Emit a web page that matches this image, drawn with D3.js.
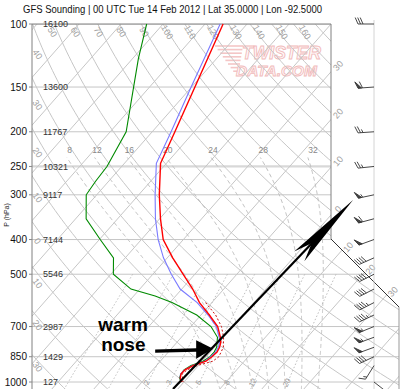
<!DOCTYPE html>
<html><head><meta charset="utf-8">
<script src="https://cdn.jsdelivr.net/npm/d3@7"></script>
<style>body{margin:0;background:#fff}svg{display:block}</style>
</head><body><svg id="c" width="400" height="389"></svg>
<script>
// ---------------- DATA ----------------
const pressureTicks = [100,150,200,250,300,400,500,700,850,1000];
const heightLabels  = ["16100","13600","11767","10321","9117","7144","5546","2987","1429","127"];
const isothermLabelTemps = [-30,-20,-10,0,10,20,30];
const topAdiabatLabels  = [50,60,70,80,90,100,110,120,130,140,150,160];
const leftAdiabatLabels = [40,30,20,10,0,-10,-20,-30];
const moistThetaW  = [8,12,16,20,24,28,32];
const mixingRatios = [0.4,1,2,3,5,8,12,20];
const mixingLabels = [2,3,5,8,12,20];

// temperature (red) and wet-bulb (blue)
const sndP  = [100,150,200,245,300,350,400,450,500,550,600,650,700,750,775,800,825,850,875,900,925,950,975,1000];
const sndT  = [-65.7,-59.2,-54.6,-51.4,-45.1,-39.8,-34.8,-28.7,-22.8,-17.4,-12.95,-8.0,-3.6,-0.7,0.45,1.2,1.6,1.36,0.9,-1.3,-2.3,-2.4,-1.7,-0.55];
const sndTw = [-66.4,-60.1,-55.5,-52.4,-46.1,-41.0,-36.0,-30.9,-25.6,-20.4,-13.5,-8.3,-3.9,-1.0,0.17,0.9,1.24,1.1,0.64,-1.4,-2.4,-2.5,-1.76,-0.64];
// dewpoint (green)
const tdP = [100,125,150,200,250,275,300,350,400,450,500,550,575,600,650,700,750,800,825,850,875,900,925,950,975,1000];
const sndTd = [-83.9,-78.6,-73.8,-66.2,-63.5,-63.1,-62.5,-57.5,-49.8,-42.8,-39.4,-32.1,-24.9,-19.5,-11.0,-5.2,-1.4,0.5,0.9,0.9,0.17,-1.76,-2.55,-2.4,-1.9,-0.7];
// dashed (virtual temperature)
const tvP = [600,650,700,750,800,850,875,900,925,950,1000];
const tvT = [-11.5,-6.5,-2.7,0.05,2.1,3.0,2.5,-0.33,-1.8,-2.1,-0.24];
// winds
const windP   = [100,150,200,250,300,350,400,450,500,550,600,650,700,750,800,850,900,1000];
const windDir = [270,266,266,264,258,255,250,246,243,243,243,245,248,250,250,245,212,128];
const windSpd = [30,60,25,25,55,60,50,40,40,40,45,45,55,55,50,40,15,10];
// annotation anchors (p, T)
const annotLine = [{p:1046,T:-1.15},{p:310,T:2.1}];
const noseTip = {p:808,T:0};

// ---------------- GEOMETRY ----------------
const svg = d3.select('#c');
svg.append('rect').attr('width',400).attr('height',389).attr('fill','#fff');
const X0=184, A=4.2, S=0.88;
const yS = d3.scaleLog().domain([100,1000]).range([24,382]);
const tS = d3.scaleLinear().domain([0,10]).range([X0, X0+10*A]);
const YB = yS(1000);
const sx = (T,p) => tS(T) + S*(YB - yS(p));
const L=32, TOP=24, R=331, NY=239, R2=399;
const clipPts = [[L,TOP],[R,TOP],[R,NY],[R2,NY+(R2-R)],[R2,400],[L,400]];
const font = "'Liberation Sans', Arial, sans-serif";

const defs = svg.append('defs');
defs.append('clipPath').attr('id','pc').append('polygon').attr('points',clipPts.map(d=>d.join(',')).join(' '));

// watermark
const wm = svg.append('g').attr('opacity',0.8);
d3.range(8).forEach(i=>{
  wm.append('line').attr('x1',215+i*2.6).attr('x2',243-i*0.6).attr('y1',46+i*3.6).attr('y2',46+i*3.6)
    .attr('stroke','#f2b8b8').attr('stroke-width',1.6);
});
wm.append('text').attr('x',242).attr('y',59).attr('textLength',79).attr('lengthAdjust','spacingAndGlyphs')
  .attr('font-family',font).attr('font-style','italic').attr('font-weight','bold').attr('font-size',18)
  .attr('fill','#fff6f6').attr('stroke','#eeaaaa').attr('stroke-width',0.9).text('TWISTER');
wm.append('text').attr('x',236).attr('y',76).attr('textLength',81).attr('lengthAdjust','spacingAndGlyphs')
  .attr('font-family',font).attr('font-style','italic').attr('font-weight','bold').attr('font-size',15.5)
  .attr('fill','#fff6f6').attr('stroke','#eeaaaa').attr('stroke-width',0.9).text('DATA.COM');

const grid = svg.append('g').attr('clip-path','url(#pc)');
const gcol = '#c6c6c6';
const line = d3.line().x(d=>d[0]).y(d=>d[1]);

// isobars
pressureTicks.forEach(p=>{
  grid.append('line').attr('x1',L).attr('x2',R2).attr('y1',yS(p)).attr('y2',yS(p))
    .attr('stroke', p===250?'#d8d8d8':gcol).attr('stroke-width', p===250?2.2:1);
});
// isotherms
d3.range(-150,61,10).forEach(T=>{
  grid.append('line').attr('x1',sx(T,1100)).attr('y1',yS(1100)).attr('x2',sx(T,100)).attr('y2',yS(100))
    .attr('stroke',gcol).attr('stroke-width',1);
});
// dry adiabats
const dryPs = d3.range(0,81).map(i=>100*Math.pow(11,i/80));
const dryX = (th,p) => sx((th+273.15)*Math.pow(p/1000,0.286)-273.15, p);
d3.range(-40,201,10).forEach(th=>{
  grid.append('path').attr('d',line(dryPs.map(p=>[dryX(th,p),yS(p)]))).attr('fill','none')
    .attr('stroke',gcol).attr('stroke-width',1);
});
// moist adiabats
function es(Tc){return 6.112*Math.exp(17.67*Tc/(Tc+243.5));}
function lapse(Tk,p){const Rd=287.04,Cp=1005.7,Lv=2.501e6,eps=0.622;const e=es(Tk-273.15);const rs=eps*e/(p-e);
  return (Rd*Tk+Lv*rs)/(p*(Cp+Lv*Lv*rs*eps/(Rd*Tk*Tk)));}
function moist(thw,pTop){
  const down=[],up=[];let T=thw+273.15;
  for(let p=1000;p<1100;p+=2){const k1=lapse(T,p);const k2=lapse(T+k1,p+2);T+=(k1+k2);down.push([p+2,T]);}
  T=thw+273.15;up.push([1000,T]);
  for(let p=1000;p>pTop;p-=2){const k1=lapse(T,p);const k2=lapse(T-2*k1,p-2);T-=(k1+k2);up.push([p-2,T]);}
  return down.reverse().concat(up).map(d=>[d[0],d[1]-273.15]);
}
const lab = svg.append('g').attr('font-family',font);
moistThetaW.forEach(tw=>{
  const pts = moist(tw,225);
  const drawn = pts.filter(d=>d[0]>=235);
  grid.append('path').attr('d',line(drawn.map(d=>[sx(d[1],d[0]),yS(d[0])]))).attr('fill','none')
    .attr('stroke','#bdbdbd').attr('stroke-width',1).attr('stroke-dasharray','4,3');
  const t = pts[pts.length-1];
  lab.append('text').attr('x',sx(t[1],t[0])+8).attr('y',yS(t[0])+3.5).attr('text-anchor','middle')
    .attr('font-size',8.5).attr('fill','#888').text(tw);
});
// mixing ratio
function tdFromW(w,p){const e=w*p/(622+w);const l=Math.log(e/6.112);return 243.5*l/(17.67-l);}
const mixPs = d3.range(0,41).map(i=>500*Math.pow(2.2,i/40));
mixingRatios.forEach(w=>{
  grid.append('path').attr('d',line(mixPs.map(p=>[sx(tdFromW(w,p),p),yS(p)]))).attr('fill','none')
    .attr('stroke','#bdbdbd').attr('stroke-width',1).attr('stroke-dasharray','1.5,2');
});
mixingLabels.forEach(w=>{
  const yy=382.5, p = yS.invert(yy);
  const x = sx(tdFromW(w,p),p)-1;
  lab.append('text').attr('transform',`translate(${x},${yy}) rotate(-62)`).attr('text-anchor','middle')
    .attr('dy','0.35em').attr('font-size',7.5).attr('fill','#999').text(w);
});

// frame
const fr = svg.append('g').attr('fill','none');
fr.append('polyline').attr('points',[[L,389],[L,TOP],[R,TOP],[R,NY]].map(d=>d.join(',')).join(' '))
  .attr('stroke','#808080').attr('stroke-width',1);
fr.append('line').attr('x1',R).attr('y1',NY).attr('x2',R2).attr('y2',NY+(R2-R)).attr('stroke','#333').attr('stroke-width',1);
fr.append('line').attr('x1',R2).attr('y1',NY+(R2-R)).attr('x2',R2).attr('y2',389).attr('stroke','#999').attr('stroke-width',1);

// isotherm labels
isothermLabelTemps.forEach(T=>{
  let x,y;
  const yr = YB - (R - tS(T))/S;
  if(yr>=TOP && yr<=NY){x=R+7;y=yr-6;}
  else{ x=(tS(T)+S*(YB+ (R-NY)))/(1+S); y=NY+(x-R); x+=6; y-=3; }
  lab.append('text').attr('transform',`translate(${x},${y}) rotate(-49)`).attr('text-anchor','middle')
    .attr('dy','0.35em').attr('font-size',9).attr('fill','#a0a0a0').text(Math.abs(T));
});
// top dry adiabat labels
topAdiabatLabels.forEach(th=>{
  const p = yS.invert(32);
  const x0 = dryX(th,p);
  const x = 174 + (x0-174.5)*1.04;
  lab.append('text').attr('transform',`translate(${x},32) rotate(60)`).attr('text-anchor','middle')
    .attr('dy','0.35em').attr('font-size',9).attr('fill','#a0a0a0').text(th);
});
// left dry adiabat labels
leftAdiabatLabels.forEach(th=>{
  let yc=null;
  for(let i=0;i<dryPs.length-1;i++){
    const a=dryX(th,dryPs[i]), b=dryX(th,dryPs[i+1]);
    if((a-L)*(b-L)<=0){const f=(L-a)/(b-a);yc=yS(dryPs[i])+f*(yS(dryPs[i+1])-yS(dryPs[i]));break;}
  }
  if(yc===null) yc = yS(100);
  const yy = yc + 12 + 18*(1-(yc-27)/328);
  lab.append('text').attr('transform',`translate(37.5,${yy}) rotate(55)`).attr('text-anchor','middle')
    .attr('dy','0.35em').attr('font-size',9).attr('fill','#a0a0a0').text(Math.abs(th));
});

// axis labels
pressureTicks.forEach((p,i)=>{
  svg.append('line').attr('x1',29).attr('x2',L).attr('y1',yS(p)).attr('y2',yS(p)).attr('stroke','#888');
  svg.append('text').attr('x',27).attr('y',yS(p)).attr('dy','0.35em').attr('text-anchor','end')
    .attr('font-family',font).attr('font-size',10).attr('fill','#111').text(p);
  svg.append('text').attr('x',43).attr('y',yS(p)).attr('dy','0.35em')
    .attr('font-family',font).attr('font-size',9).attr('fill','#333').text(heightLabels[i]);
});
svg.append('text').attr('transform','translate(9,215) rotate(-90)').attr('text-anchor','middle')
  .attr('font-family',font).attr('font-size',7).attr('fill','#222').text('P (hPa)');
svg.append('text').attr('x',23).attr('y',12.5).attr('textLength',299).attr('lengthAdjust','spacingAndGlyphs')
  .attr('font-family',font).attr('font-size',11).attr('fill','#111')
  .text('GFS Sounding | 00 UTC Tue 14 Feb 2012 | Lat 35.0000 | Lon -92.5000');

// sounding
const snd = svg.append('g').attr('fill','none');
const pl = (P,V)=>line(P.map((p,i)=>[sx(V[i],p),yS(p)]));
snd.append('path').attr('d',pl(tdP,sndTd)).attr('stroke','#008a00').attr('stroke-width',1.1);
snd.append('path').attr('d',pl(sndP,sndTw)).attr('stroke','#7a7aff').attr('stroke-width',1.1);
snd.append('path').attr('d',pl(tvP,tvT)).attr('stroke','#cc1010').attr('stroke-width',1).attr('stroke-dasharray','2,2');
snd.append('path').attr('d',pl(sndP,sndT)).attr('stroke','#ff0000').attr('stroke-width',1.4);

// wind barbs
const wb = svg.append('g').attr('stroke','#333').attr('stroke-width',0.9).attr('fill','none');
const staffX = 374;
wb.append('line').attr('x1',staffX).attr('x2',staffX).attr('y1',20).attr('y2',389).attr('stroke','#cfcfcf');
windP.forEach((p,i)=>{
  const th = windDir[i]*Math.PI/180;
  const d=[Math.sin(th),-Math.cos(th)], n=[-d[1],d[0]];
  const s0=[staffX,yS(p)], Lb=16;
  const tip=[s0[0]+d[0]*Lb, s0[1]+d[1]*Lb];
  wb.append('line').attr('x1',s0[0]).attr('y1',s0[1]).attr('x2',tip[0]).attr('y2',tip[1]);
  let spd=Math.round(windSpd[i]/5)*5, pos=0;
  const at=q=>[tip[0]-d[0]*q, tip[1]-d[1]*q];
  const out=(b,len)=>[b[0]+len*(n[0]*0.92+d[0]*0.4), b[1]+len*(n[1]*0.92+d[1]*0.4)];
  while(spd>=50){const b1=at(pos),b2=at(pos+3.5),o=out(b1,7);
    wb.append('polygon').attr('points',[b1,o,b2].map(q=>q.join(',')).join(' ')).attr('fill','#444');pos+=4.5;spd-=50;}
  while(spd>=10){const b=at(pos),o=out(b,7);wb.append('line').attr('x1',b[0]).attr('y1',b[1]).attr('x2',o[0]).attr('y2',o[1]);pos+=2.5;spd-=10;}
  if(spd>=5){if(pos===0)pos=2;const b=at(pos),o=out(b,3.5);wb.append('line').attr('x1',b[0]).attr('y1',b[1]).attr('x2',o[0]).attr('y2',o[1]);}
});

// annotations
const an = svg.append('g');
const pA=[sx(annotLine[0].T,annotLine[0].p),yS(annotLine[0].p)], pB=[sx(annotLine[1].T,annotLine[1].p),yS(annotLine[1].p)];
const dl=Math.hypot(pB[0]-pA[0],pB[1]-pA[1]); const u=[(pB[0]-pA[0])/dl,(pB[1]-pA[1])/dl], nn=[-u[1],u[0]];
const back=(k)=>[pB[0]-u[0]*k,pB[1]-u[1]*k];
an.append('line').attr('x1',pA[0]).attr('y1',pA[1]).attr('x2',back(30)[0]).attr('y2',back(30)[1]).attr('stroke','#000').attr('stroke-width',2.2);
const bb=back(78), nb=back(60);
an.append('polygon').attr('points',[pB,[bb[0]+nn[0]*7,bb[1]+nn[1]*7],nb,[bb[0]-nn[0]*7,bb[1]-nn[1]*7]].map(q=>q.join(',')).join(' ')).attr('fill','#000');
const tp=[sx(noseTip.T,noseTip.p),yS(noseTip.p)];
an.append('polygon').attr('points',[[tp[0]-58,tp[1]+0.7],[tp[0]-17,tp[1]-0.5],[tp[0]-17,tp[1]-8.5],[tp[0],tp[1]],[tp[0]-17,tp[1]+10],[tp[0]-17,tp[1]+3],[tp[0]-58,tp[1]+4]].map(q=>q.join(',')).join(' ')).attr('fill','#000');
an.append('text').attr('x',tp[0]-115).attr('y',tp[1]-18).attr('font-family',font).attr('font-weight','bold').attr('font-size',19).attr('fill','#000').text('warm');
an.append('text').attr('x',tp[0]-112).attr('y',tp[1]+2).attr('font-family',font).attr('font-weight','bold').attr('font-size',19).attr('fill','#000').text('nose');
</script></body></html>
